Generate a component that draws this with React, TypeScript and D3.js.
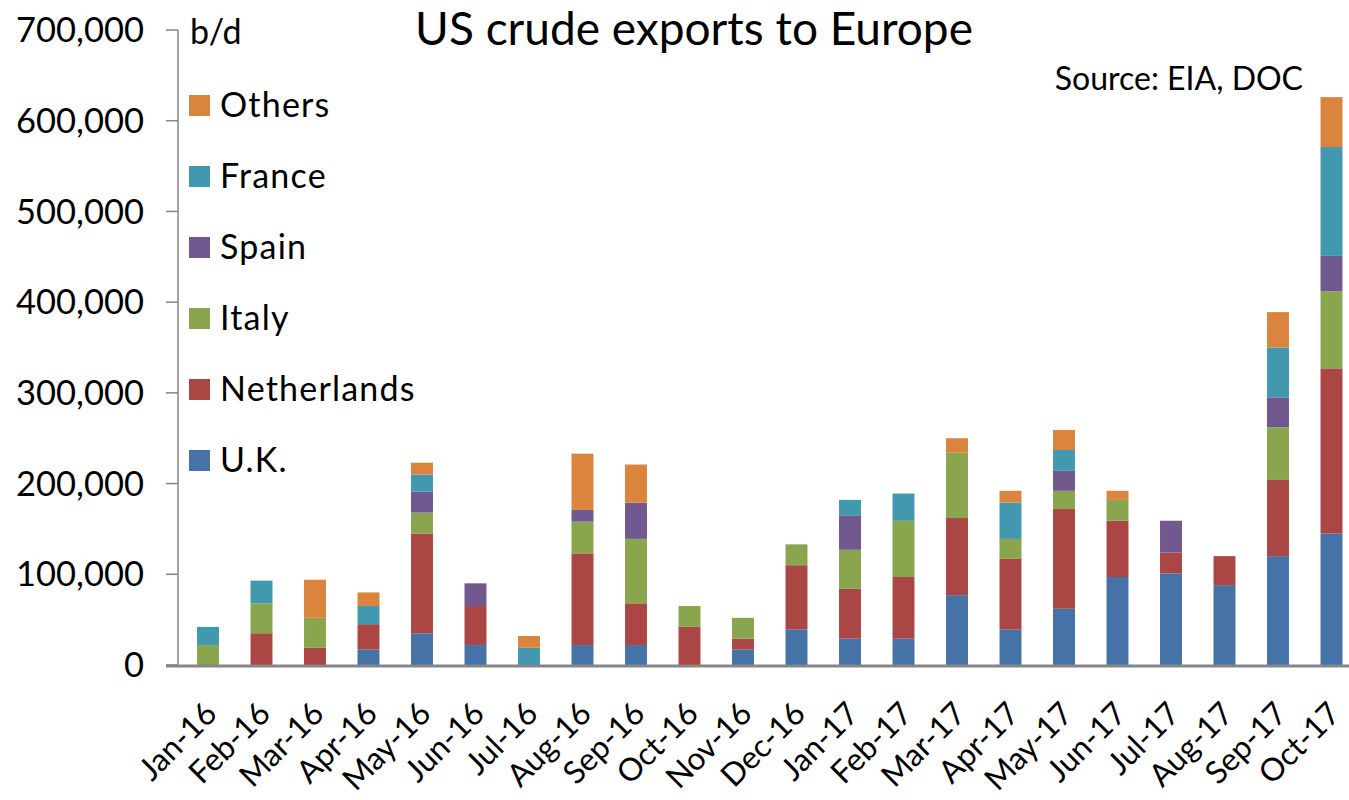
import * as d3 from "d3";

// US crude exports to Europe, b/d
const months = [
  "Jan-16", "Feb-16", "Mar-16", "Apr-16", "May-16", "Jun-16", "Jul-16", "Aug-16",
  "Sep-16", "Oct-16", "Nov-16", "Dec-16", "Jan-17", "Feb-17", "Mar-17", "Apr-17",
  "May-17", "Jun-17", "Jul-17", "Aug-17", "Sep-17", "Oct-17",
];

const uk = [0, 0, 0, 17000, 35000, 22000, 0, 22000, 22000, 0, 17000, 39000, 29000, 29000, 77000, 39000, 62000, 97000, 101000, 88000, 120000, 145000];
const netherlands = [0, 35000, 19000, 28000, 110000, 43000, 0, 101000, 46000, 42000, 12000, 71000, 55000, 68000, 85000, 78000, 110000, 62000, 23000, 32000, 84000, 182000];
const italy = [22000, 33000, 33000, 0, 23000, 0, 0, 35000, 71000, 23000, 23000, 23000, 43000, 62000, 72000, 22000, 20000, 23000, 0, 0, 58000, 85000];
const spain = [0, 0, 0, 0, 23000, 25000, 0, 13000, 40000, 0, 0, 0, 38000, 0, 0, 0, 22000, 0, 35000, 0, 33000, 39000];
const france = [20000, 25000, 0, 20000, 19000, 0, 19000, 0, 0, 0, 0, 0, 17000, 30000, 0, 40000, 23000, 0, 0, 0, 55000, 120000];
const others = [0, 0, 42000, 15000, 13000, 0, 13000, 62000, 42000, 0, 0, 0, 0, 0, 16000, 13000, 22000, 10000, 0, 0, 39000, 55000];

const seriesNames = ["U.K.", "Netherlands", "Italy", "Spain", "France", "Others"];
const seriesColors = ["#4572a7", "#aa4643", "#89a54e", "#71588f", "#4198af", "#db843d"];
const yTicks = [0, 100000, 200000, 300000, 400000, 500000, 600000, 700000];

const width = 1349;
const height = 800;
const font = "Lato, 'Open Sans', sans-serif";

export default function App() {
  const rows = months.map((m, i) => ({
    month: m,
    "U.K.": uk[i],
    Netherlands: netherlands[i],
    Italy: italy[i],
    Spain: spain[i],
    France: france[i],
    Others: others[i],
  }));

  const stacked = d3.stack().keys(seriesNames)(rows as any);

  const x = d3
    .scaleBand()
    .domain(months)
    .range([181.25, 1358.25])
    .paddingInner(0.59)
    .paddingOuter(0.295);

  const y = d3.scaleLinear().domain([0, 700000]).range([665, 30]);
  const fmt = d3.format(",");

  return (
    <div style={{ position: "absolute", left: 0, top: 0 }}>
      <svg width={width} height={height} viewBox={`0 0 ${width} ${height}`} style={{ display: "block", background: "#fff" }}>
        <g className="bars">
          {stacked.map((s, si) => (
            <g key={s.key} fill={seriesColors[si]}>
              {s.map((d, i) =>
                d[1] - d[0] > 0 ? (
                  <rect
                    key={months[i]}
                    x={x(months[i])}
                    y={y(d[1])}
                    width={x.bandwidth()}
                    height={y(d[0]) - y(d[1])}
                  />
                ) : null
              )}
            </g>
          ))}
        </g>

        {/* y axis */}
        <g className="y-axis" fontFamily={font} fontSize={34.5} fill="#000">
          <line x1={178} x2={178} y1={y(700000)} y2={y(0)} stroke="#868686" strokeWidth={1.5} />
          {yTicks.map((t) => (
            <g key={t}>
              <line x1={166} x2={178} y1={y(t)} y2={y(t)} stroke="#868686" strokeWidth={1.5} />
              <text x={144} y={y(t)} dy="0.35em" textAnchor="end">
                {fmt(t)}
              </text>
            </g>
          ))}
        </g>

        {/* x axis */}
        <line x1={166} x2={width} y1={666} y2={666} stroke="#868686" strokeWidth={3} />
        <g className="x-axis" fontFamily={font} fontSize={31.5} fill="#000">
          {months.map((m) => (
            <text
              key={m}
              transform={`translate(${(x(m) as number) + x.bandwidth() / 2 - 5},700) rotate(-45)`}
              textAnchor="end"
              dy="0.7em"
            >
              {m}
            </text>
          ))}
        </g>

        {/* legend */}
        <g className="legend" fontFamily={font} fontSize={34} letterSpacing={1.2}>
          {seriesNames
            .slice()
            .reverse()
            .map((name, i) => (
              <g key={name} transform={`translate(189,${95 + i * 71})`}>
                <rect width={21} height={21} fill={seriesColors[seriesNames.length - 1 - i]} />
                <text x={31} y={10.5} dy="0.35em">
                  {name}
                </text>
              </g>
            ))}
        </g>

        <text x={190} y={32} dy="0.35em" fontFamily={font} fontSize={34}>
          b/d
        </text>
        <text x={694} y={45} textAnchor="middle" fontFamily={font} fontSize={46}>
          US crude exports to Europe
        </text>
        <text x={1303} y={90} textAnchor="end" fontFamily={font} fontSize={32}>
          Source: EIA, DOC
        </text>
      </svg>
    </div>
  );
}
